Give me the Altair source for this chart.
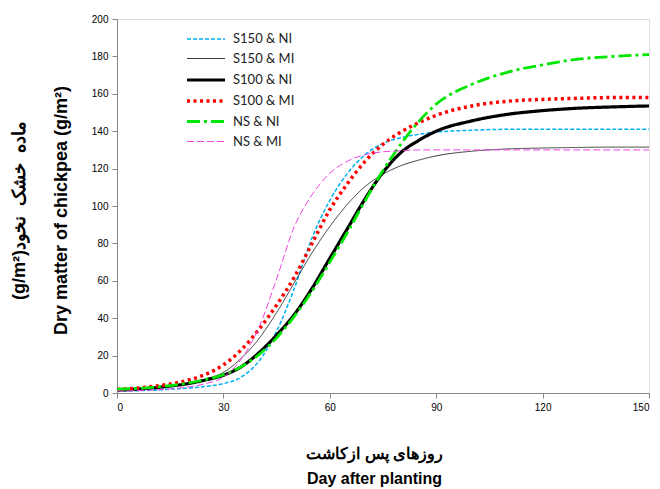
import altair as alt
import pandas as pd

days = [0, 5, 10, 15, 20, 25, 30, 35, 40, 45, 50, 55, 60, 65, 70, 75, 80, 85, 90, 100, 110, 120, 130, 140, 150]

s150_ni = [1.0, 1.2, 1.5, 2.0, 2.6, 3.5, 5.0, 8.5, 17, 33, 56, 83, 103, 117.5, 127.5, 133.5, 136.5, 138.3, 139.5, 140.5, 141, 141, 141, 141, 141]
s150_mi = [1.5, 2.0, 2.8, 3.8, 5.2, 7.5, 11, 18.5, 29, 43, 59, 75, 89, 101, 110.5, 117, 121.5, 124.5, 126.8, 129.3, 130.5, 131, 131.3, 131.5, 131.5]
s100_ni = [1.5, 2.0, 2.7, 3.7, 5.0, 7.0, 9.5, 14, 21.5, 31, 42, 56, 72, 88, 104, 118, 128.5, 135, 140, 145.5, 149, 151, 152.3, 153, 153.5]
s100_mi = [2.0, 2.5, 3.5, 4.8, 6.8, 10, 15, 23, 34, 47, 62, 80, 98, 112, 124, 133, 139.5, 144.5, 148.5, 153.5, 156, 157, 157.6, 158, 158]
ns_ni = [2.0, 2.4, 3.0, 4.0, 5.3, 7.2, 9.8, 14, 20.5, 29.5, 41, 54.5, 70, 86, 103, 119, 133, 145, 154.5, 165, 171.5, 175.5, 178.5, 180, 181]
ns_mi = [1.0, 1.2, 1.6, 2.2, 3.2, 5.0, 8.5, 18, 35, 61, 89, 106, 117.5, 124, 127.5, 129, 129.5, 130, 130, 130, 130, 130, 130, 130, 130]

series_names = ["S150 & NI", "S150 & MI", "S100 & NI", "S100 & MI", "NS & NI", "NS & MI"]
series_values = [s150_ni, s150_mi, s100_ni, s100_mi, ns_ni, ns_mi]
colors = ["#00B0F0", "#222222", "#000000", "#FF0000", "#00E600", "#EE44E0"]
dashes = [[4, 2], [1, 0], [1, 0], [3, 3.5], [13, 4, 3, 4], [7, 3]]
widths = [1.5, 0.9, 3.2, 3.5, 2.8, 1.0]

x_ticks = [0, 30, 60, 90, 120, 150]
y_ticks = [0, 20, 40, 60, 80, 100, 120, 140, 160, 180, 200]

rows = []
for name, vals in zip(series_names, series_values):
    for d, v in zip(days, vals):
        rows.append({"day": d, "value": v, "series": name})
df = pd.DataFrame(rows)

FONT = "Lato, DejaVu Sans"
NB = "\u00a0"
persian_y = "(g/m²)ماده" + NB + NB + "خشک" + NB + NB + "نخود"


def legend():
    return alt.Legend(title=None, orient="none", legendX=77, legendY=9,
                      symbolType="M-1.9,0H1.9", symbolSize=400,
                      labelFontSize=13, labelFont=FONT,
                      labelColor="#222", rowPadding=2, labelOffset=15)


chart = alt.Chart(df).mark_line(interpolate="monotone").encode(
    x=alt.X("day:Q",
            scale=alt.Scale(domain=[0, 150], nice=False, zero=False),
            axis=alt.Axis(values=x_ticks, grid=False,
                          title=["روزهای پس ازکاشت", "Day after planting"],
                          titleFontSize=16, titleFontWeight="bold",
                          titleLineHeight=25, titleX=257, titleY=65,
                          titleAlign="center", titleBaseline="alphabetic",
                          labelPadding=4)),
    y=alt.Y("value:Q",
            scale=alt.Scale(domain=[0, 200], nice=False),
            axis=alt.Axis(values=y_ticks, grid=False,
                          title=[persian_y, "Dry matter of chickpea (g/m²)"],
                          titleFontSize=18, titleFontWeight="bold",
                          titleLineHeight=42, titleAngle=-90,
                          titleX=-93, titleY=191, titleAlign="center",
                          titleBaseline="alphabetic", labelPadding=4)),
    color=alt.Color("series:N", sort=series_names,
                    scale=alt.Scale(domain=series_names, range=colors),
                    legend=legend()),
    strokeDash=alt.StrokeDash("series:N", sort=series_names,
                              scale=alt.Scale(domain=series_names, range=dashes),
                              legend=legend()),
    strokeWidth=alt.StrokeWidth("series:N", sort=series_names,
                                scale=alt.Scale(type="ordinal", domain=series_names, range=widths),
                                legend=legend()),
).properties(
    width=532, height=374,
    autosize=alt.AutoSizeParams(type="none"),
    padding={"left": 109, "top": 11, "right": 3, "bottom": 96},
).configure_view(
    stroke=None
).configure_axis(
    domainColor="#868686", tickColor="#868686", tickSize=5, domainWidth=1,
    labelFont=FONT, labelFontSize=13, labelColor="#222",
    titleFont=FONT, titleColor="#000"
).configure(background="white")

chart.save("out.html", embed_options={"renderer": "svg", "actions": False})
